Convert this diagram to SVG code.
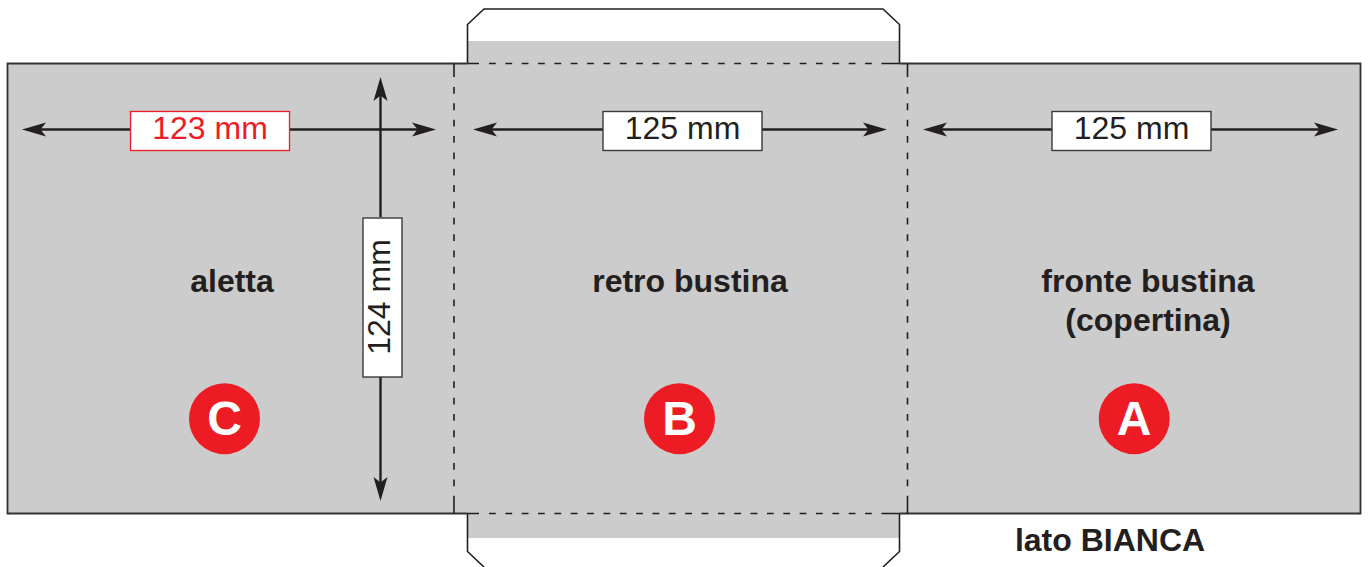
<svg xmlns="http://www.w3.org/2000/svg" width="1368" height="567" viewBox="0 0 1368 567">
<style>
.ln{fill:none;stroke:#231f20;stroke-width:1.6}
.edge{fill:none;stroke:#333335;stroke-width:1.8}
.dash{fill:none;stroke:#231f20;stroke-width:1.6;stroke-dasharray:6.800 9.550}
.dim{fill:none;stroke:#231f20;stroke-width:2.4}
.head{fill:#231f20}
.box{fill:#fff;stroke:#3a3a3c;stroke-width:1.4}
.t{font-family:"Liberation Sans",Arial,sans-serif;font-size:32px;fill:#231f20;text-anchor:middle}
.b{font-family:"Liberation Sans",Arial,sans-serif;font-size:32px;font-weight:bold;fill:#231f20;text-anchor:middle}
.c{fill:#ed1c24}
.l{font-family:"Liberation Sans",Arial,sans-serif;font-size:48px;font-weight:bold;fill:#fff;text-anchor:middle}
</style>
<defs>
<path id="ah" class="head" d="M0 0L24 -7L18.500 0L24 7Z"/>
</defs>
<rect width="1368" height="567" fill="#fff"/>
<g id="sheet">
<rect x="468" y="41" width="432" height="23" fill="#cccccc"/>
<rect x="468" y="514" width="432" height="24" fill="#cccccc"/>
<rect x="8" y="64" width="1352" height="450" fill="#cccccc"/>
<path class="ln" d="M467.500 63.500V24.500L484 9H883L899.500 24.500V63.500"/>
<path class="ln" d="M467.500 513.500V551.500L484 567M883 567L899.500 551.500V513.500"/>
<path class="edge" d="M467.500 63.500H7.500V513.500H467.500M899.500 63.500H1360.500V513.500H899.500"/>
<path class="ln" d="M467.500 63.500H479M467.500 513.500H479M884 63.500H899.500M884 513.500H899.500"/>
<path class="dash" d="M489 63.500H884M489 513.500H884"/>
<path class="dash" d="M454 87V498M907.500 87V498"/>
<path class="ln" d="M454 63.500V77M454 498V513.500M907.500 63.500V77M907.500 498V513.500"/>
</g>
<g id="connectors">
<path class="dim" d="M35 129.500H130M289 129.500H424"/>
<use href="#ah" transform="translate(22 129.500)"/>
<use href="#ah" transform="translate(436 129.500) rotate(180)"/>
<path class="dim" d="M486 129.500H603M762 129.500H874"/>
<use href="#ah" transform="translate(473 129.500)"/>
<use href="#ah" transform="translate(887 129.500) rotate(180)"/>
<path class="dim" d="M936 129.500H1052M1211 129.500H1325"/>
<use href="#ah" transform="translate(923 129.500)"/>
<use href="#ah" transform="translate(1338 129.500) rotate(180)"/>
<path class="dim" d="M380.500 90V217M380.500 377V488"/>
<use href="#ah" transform="translate(380.500 77) rotate(90)"/>
<use href="#ah" transform="translate(380.500 501) rotate(-90)"/>
</g>
<g id="dim-123">
<rect x="130.500" y="111.500" width="159" height="39" fill="#fff" stroke="#ed1c24" stroke-width="1.300"/>
<text x="210" y="139" class="t" style="fill:#ed1c24">123 mm</text>
</g>
<g id="dim-125-b">
<rect class="box" x="603" y="111.500" width="159" height="39"/>
<text x="682.500" y="139" class="t">125 mm</text>
</g>
<g id="dim-125-a">
<rect class="box" x="1052" y="111.500" width="159" height="39"/>
<text x="1131.500" y="139" class="t">125 mm</text>
</g>
<g id="dim-124">
<rect class="box" x="363" y="218" width="39" height="159"/>
<text transform="translate(390 297) rotate(-90)" class="t">124 mm</text>
</g>
<g id="panel-c">
<text x="232" y="292" class="b">aletta</text>
<circle class="c" cx="224.500" cy="418.700" r="35.500"/>
<text x="224.500" y="434.500" class="l">C</text>
</g>
<g id="panel-b">
<text x="690" y="292" class="b">retro bustina</text>
<circle class="c" cx="679.500" cy="418.700" r="35.500"/>
<text x="679.500" y="434.500" class="l">B</text>
</g>
<g id="panel-a">
<text x="1148" y="292" class="b">fronte bustina</text>
<text x="1148" y="331" class="b">(copertina)</text>
<circle class="c" cx="1134.200" cy="418.700" r="35.500"/>
<text x="1134.200" y="434.500" class="l">A</text>
</g>
<g id="side-label">
<text x="1110" y="550.500" class="b">lato BIANCA</text>
</g>
</svg>
